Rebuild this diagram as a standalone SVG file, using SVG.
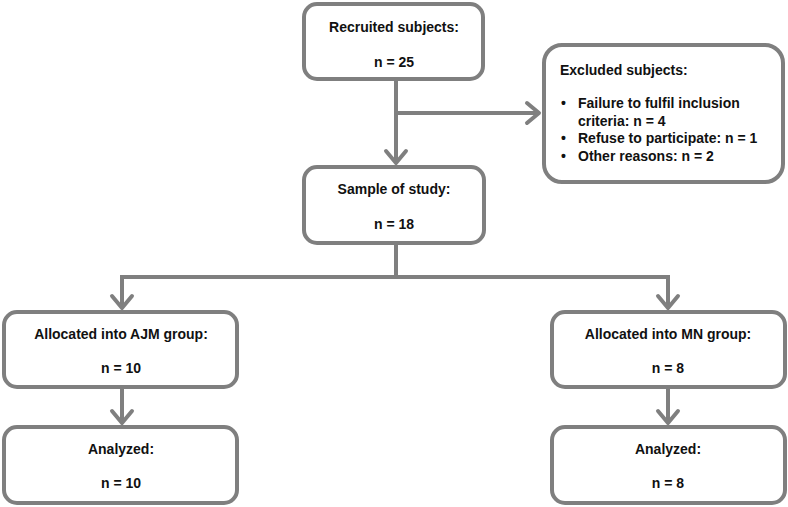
<svg xmlns="http://www.w3.org/2000/svg" width="788" height="507" viewBox="0 0 788 507">
<defs>
<style>
.box{fill:#fff;stroke:#7f7f7f;stroke-width:4}
.ln{fill:none;stroke:#7f7f7f;stroke-width:4}
text{font-family:"Liberation Sans",Arial,sans-serif;font-weight:bold;font-size:14px;fill:#111}
.c{text-anchor:middle}
</style>
<marker id="arr" markerUnits="userSpaceOnUse" markerWidth="30" markerHeight="30" viewBox="-16 -15 20 30" refX="0" refY="0" orient="auto">
<path d="M-12,-10 L0,0 L-12,10" fill="none" stroke="#7f7f7f" stroke-width="4" stroke-linejoin="round" stroke-linecap="round"/>
</marker>
</defs>
<rect width="788" height="507" fill="#fff"/>
<g id="connectors">
<path class="ln" d="M396,79 V163" marker-end="url(#arr)"/>
<path class="ln" d="M396,113 H539" marker-end="url(#arr)"/>
<path class="ln" d="M396,243 V277"/>
<path class="ln" d="M120,277 H670"/>
<path class="ln" d="M122,277 V308" marker-end="url(#arr)"/>
<path class="ln" d="M668,277 V308" marker-end="url(#arr)"/>
<path class="ln" d="M122,387 V423" marker-end="url(#arr)"/>
<path class="ln" d="M668,387 V423" marker-end="url(#arr)"/>
</g>
<g id="recruited">
<rect class="box" x="304" y="4" width="179" height="75" rx="13"/>
<text class="c" x="394" y="32">Recruited subjects:</text>
<text class="c" x="394" y="67">n = 25</text>
</g>
<g id="excluded">
<rect class="box" x="544" y="45" width="239" height="137" rx="18"/>
<text x="560" y="75">Excluded subjects:</text>
<text x="561" y="108">•</text><text x="578" y="108">Failure to fulfil inclusion</text>
<text x="578" y="126">criteria: n = 4</text>
<text x="561" y="143">•</text><text x="578" y="143">Refuse to participate: n = 1</text>
<text x="561" y="161">•</text><text x="578" y="161">Other reasons: n = 2</text>
</g>
<g id="sample">
<rect class="box" x="304" y="167" width="180" height="76" rx="13"/>
<text class="c" x="394" y="194">Sample of study:</text>
<text class="c" x="394" y="229">n = 18</text>
</g>
<g id="ajm">
<rect class="box" x="4" y="312" width="233" height="75" rx="13"/>
<text class="c" x="121" y="339">Allocated into AJM group:</text>
<text class="c" x="121" y="373">n = 10</text>
</g>
<g id="mn">
<rect class="box" x="552" y="312" width="233" height="75" rx="13"/>
<text class="c" x="668" y="339">Allocated into MN group:</text>
<text class="c" x="668" y="373">n = 8</text>
</g>
<g id="ajm-analyzed">
<rect class="box" x="4" y="427" width="233" height="76" rx="13"/>
<text class="c" x="121" y="454">Analyzed:</text>
<text class="c" x="121" y="488">n = 10</text>
</g>
<g id="mn-analyzed">
<rect class="box" x="552" y="427" width="233" height="76" rx="13"/>
<text class="c" x="668" y="454">Analyzed:</text>
<text class="c" x="668" y="488">n = 8</text>
</g>
</svg>
